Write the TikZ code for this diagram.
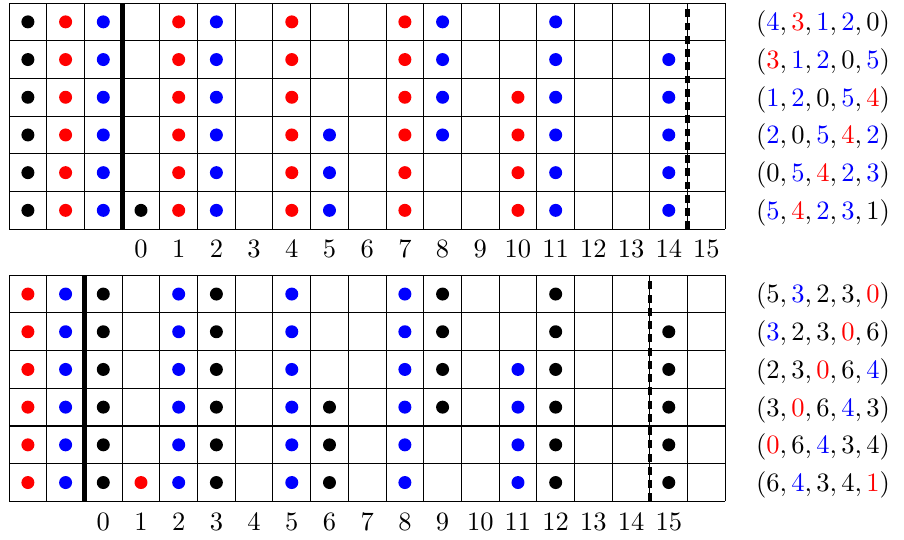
\documentclass[tikz,border=0pt]{standalone}
\usepackage{amsmath}
\usepackage{tikz}

\newcommand{\bl}[1]{\textcolor{blue}{#1}}
\newcommand{\rd}[1]{\textcolor{red}{#1}}

\begin{document}
\begin{tikzpicture}[
    x=0.5cm, y=0.5cm,
    cell/.style={draw, step=1, line width=0.4pt},
    split/.style={line width=1.8pt},
    cutoff/.style={line width=1.7pt, dash pattern=on 3pt off 2pt},
    idx/.style={inner sep=0pt},
    seq/.style={anchor=west, inner sep=0pt},
    pebble/.style={radius=2.45pt}
  ]
    \useasboundingbox (-0.24,-8.23) rectangle (23.74,6.08);

    % upper table
    \begin{scope}[shift={(3,0)}]
      \draw[cell] (-3,0) grid (16,6);
      \draw[split] (0,0) -- (0,6);
      \draw[cutoff] (15,0) -- (15,6);
      \foreach \y in {0.5,1.5,...,5.5} {
        \fill[black] (-2.5,\y) circle[pebble];
        \fill[red] (-1.5,\y) circle[pebble];
        \fill[blue] (-0.5,\y) circle[pebble];
      }
      \foreach \y/\cols in {5.5/{1,4,7}, 4.5/{1,4,7}, 3.5/{1,4,7,10},
                            2.5/{1,4,7,10}, 1.5/{1,4,7,10}, 0.5/{1,4,7,10}}
        \foreach \n in \cols \fill[red] (\n+0.5,\y) circle[pebble];
      \foreach \y/\cols in {5.5/{2,8,11}, 4.5/{2,8,11,14}, 3.5/{2,8,11,14},
                            2.5/{2,5,8,11,14}, 1.5/{2,5,11,14}, 0.5/{2,5,11,14}}
        \foreach \n in \cols \fill[blue] (\n+0.5,\y) circle[pebble];
      \fill[black] (0.5,0.5) circle[pebble];
      \foreach \n in {0,...,15}
        \node[idx] (up-\n) at (\n+0.5,-0.52) {$\n$};
      \node[seq] (up-seq-1) at (16.8,5.44) {$(\bl{4},\rd{3},\bl{1},\bl{2},0)$};
      \node[seq] (up-seq-2) at (16.8,4.44) {$(\rd{3},\bl{1},\bl{2},0,\bl{5})$};
      \node[seq] (up-seq-3) at (16.8,3.44) {$(\bl{1},\bl{2},0,\bl{5},\rd{4})$};
      \node[seq] (up-seq-4) at (16.8,2.44) {$(\bl{2},0,\bl{5},\rd{4},\bl{2})$};
      \node[seq] (up-seq-5) at (16.8,1.44) {$(0,\bl{5},\rd{4},\bl{2},\bl{3})$};
      \node[seq] (up-seq-6) at (16.8,0.44) {$(\bl{5},\rd{4},\bl{2},\bl{3},1)$};
    \end{scope}

    % lower table
    \begin{scope}[shift={(2,-7.22)}]
      \draw[cell] (-2,0) grid (17,6);
      \draw[split] (0,0) -- (0,6);
      \draw[cutoff] (15,0) -- (15,6);
      \foreach \y in {0.5,1.5,...,5.5} {
        \fill[red] (-1.5,\y) circle[pebble];
        \fill[blue] (-0.5,\y) circle[pebble];
      }
      \foreach \y/\cols in {5.5/{0,3,9,12}, 4.5/{0,3,9,12,15}, 3.5/{0,3,9,12,15},
                            2.5/{0,3,6,9,12,15}, 1.5/{0,3,6,12,15}, 0.5/{0,3,6,12,15}}
        \foreach \n in \cols \fill[black] (\n+0.5,\y) circle[pebble];
      \foreach \y/\cols in {5.5/{2,5,8}, 4.5/{2,5,8}, 3.5/{2,5,8,11},
                            2.5/{2,5,8,11}, 1.5/{2,5,8,11}, 0.5/{2,5,8,11}}
        \foreach \n in \cols \fill[blue] (\n+0.5,\y) circle[pebble];
      \fill[red] (1.5,0.5) circle[pebble];
      \foreach \n in {0,...,15}
        \node[idx] (low-\n) at (\n+0.5,-0.54) {$\n$};
      \node[seq] (low-seq-1) at (17.8,5.44) {$(5,\bl{3},2,3,\rd{0})$};
      \node[seq] (low-seq-2) at (17.8,4.44) {$(\bl{3},2,3,\rd{0},6)$};
      \node[seq] (low-seq-3) at (17.8,3.44) {$(2,3,\rd{0},6,\bl{4})$};
      \node[seq] (low-seq-4) at (17.8,2.44) {$(3,\rd{0},6,\bl{4},3)$};
      \node[seq] (low-seq-5) at (17.8,1.44) {$(\rd{0},6,\bl{4},3,4)$};
      \node[seq] (low-seq-6) at (17.8,0.44) {$(6,\bl{4},3,4,\rd{1})$};
    \end{scope}
  \end{tikzpicture}
\end{document}
